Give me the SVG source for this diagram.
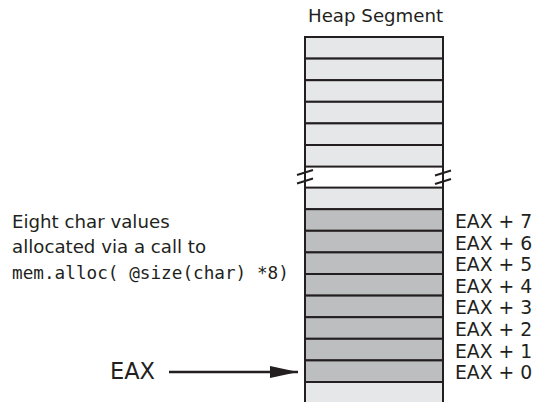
<svg xmlns="http://www.w3.org/2000/svg" width="534" height="402" viewBox="0 0 534 402">
<style>
.light{fill:#e6e7e8;stroke:#231f20;stroke-width:2}
.dark{fill:#bcbec0;stroke:#231f20;stroke-width:2}
.lbl{font-family:"DejaVu Sans",sans-serif;font-size:18.8px;fill:#231f20}
.txt{font-family:"DejaVu Sans",sans-serif;font-size:18.2px;fill:#231f20}
.mono{font-family:"DejaVu Sans Mono",monospace;font-size:17.7px;fill:#231f20}
.brk{stroke:#231f20;stroke-width:2;fill:none}
</style>
<defs>
<marker id="ah" markerWidth="28" markerHeight="12" refX="28" refY="6" orient="auto" markerUnits="userSpaceOnUse">
<path d="M0,0 L28,6 L0,12 Z" fill="#231f20"/>
</marker>
</defs>
<rect width="534" height="402" fill="#ffffff"/>
<text x="308" y="22" font-family="DejaVu Sans, sans-serif" font-size="18.2" fill="#231f20">Heap Segment</text>
<g id="heap">
<g id="top-cells">
<rect class="light" x="305" y="37" width="138" height="21.6"/>
<rect class="light" x="305" y="58.6" width="138" height="21.6"/>
<rect class="light" x="305" y="80.2" width="138" height="21.6"/>
<rect class="light" x="305" y="101.8" width="138" height="21.6"/>
<rect class="light" x="305" y="123.4" width="138" height="21.6"/>
<rect class="light" x="305" y="145" width="138" height="21.6"/>
</g>
<g id="break">
<line class="brk" x1="305" y1="166.6" x2="305" y2="187.6"/>
<line class="brk" x1="443" y1="166.6" x2="443" y2="187.6"/>
<line class="brk" x1="297" y1="175" x2="313" y2="170"/>
<line class="brk" x1="297" y1="183.5" x2="313" y2="178.5"/>
<line class="brk" x1="435" y1="175.5" x2="451" y2="170.5"/>
<line class="brk" x1="435" y1="184" x2="451" y2="179"/>
</g>
<g id="cell-pre"><rect class="light" x="305" y="187.6" width="138" height="21.6"/></g>
<g id="cell7"><rect class="dark" x="305" y="209.2" width="138" height="21.6"/><text class="lbl" x="455" y="228">EAX + 7</text></g>
<g id="cell6"><rect class="dark" x="305" y="230.8" width="138" height="21.6"/><text class="lbl" x="455" y="249.6">EAX + 6</text></g>
<g id="cell5"><rect class="dark" x="305" y="252.4" width="138" height="21.6"/><text class="lbl" x="455" y="271.2">EAX + 5</text></g>
<g id="cell4"><rect class="dark" x="305" y="274" width="138" height="21.6"/><text class="lbl" x="455" y="292.8">EAX + 4</text></g>
<g id="cell3"><rect class="dark" x="305" y="295.6" width="138" height="21.6"/><text class="lbl" x="455" y="314.4">EAX + 3</text></g>
<g id="cell2"><rect class="dark" x="305" y="317.2" width="138" height="21.6"/><text class="lbl" x="455" y="336">EAX + 2</text></g>
<g id="cell1"><rect class="dark" x="305" y="338.8" width="138" height="21.6"/><text class="lbl" x="455" y="357.6">EAX + 1</text></g>
<g id="cell0"><rect class="dark" x="305" y="360.4" width="138" height="21.6"/><text class="lbl" x="455" y="379.2">EAX + 0</text></g>
<g id="cell-post"><rect class="light" x="305" y="382" width="138" height="24"/></g>
</g>
<g id="note">
<text class="txt" x="12" y="228.3">Eight char values</text>
<text class="txt" x="12" y="253.3">allocated via a call to</text>
<text class="mono" x="12" y="279">mem.alloc( @size(char) *8)</text>
</g>
<g id="eax"><text x="110" y="379" font-family="DejaVu Sans, sans-serif" font-size="22.5" fill="#231f20">EAX</text></g>
<g id="connectors">
<line x1="169" y1="372" x2="298" y2="372" stroke="#231f20" stroke-width="2.5" marker-end="url(#ah)"/>
</g>
</svg>
